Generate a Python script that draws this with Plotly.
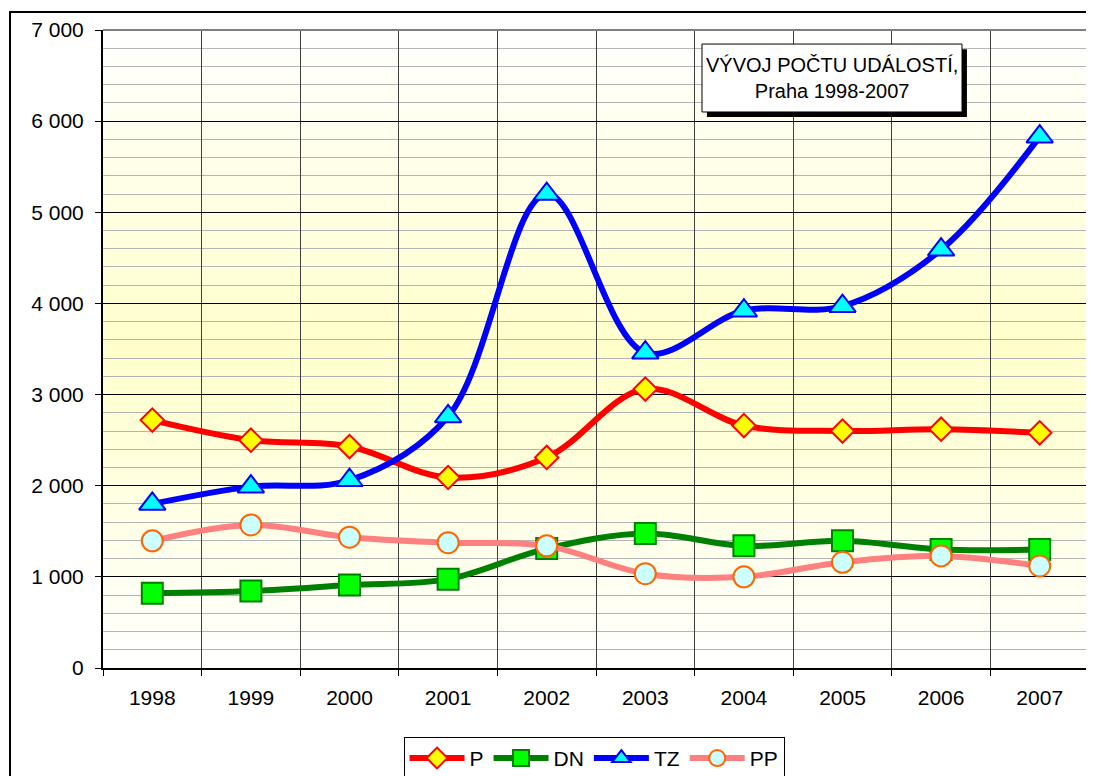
import plotly.graph_objects as go

years = ['1998', '1999', '2000', '2001', '2002', '2003', '2004', '2005', '2006', '2007']
P = [2720, 2500, 2430, 2090, 2310, 3060, 2660, 2600, 2620, 2580]
DN = [820, 845, 910, 975, 1310, 1475, 1340, 1395, 1300, 1300]
TZ = [1800, 1990, 2060, 2760, 5200, 3460, 3920, 3970, 4590, 5830]
PP = [1395, 1570, 1435, 1375, 1340, 1035, 1000, 1160, 1230, 1120]

FONT = "Liberation Sans"

fig = go.Figure()

series = [
    ("P", P, "#FF0000", "diamond", "#FFFF00", "#FF0000", 18),
    ("DN", DN, "#008000", "square", "#00FF00", "#008000", 21),
    ("TZ", TZ, "#0000FF", "triangle-up", "#00FFFF", "#0000FF", 23),
    ("PP", PP, "#FF8080", "circle", "#CCFFFF", "#FF6600", 21),
]
for name, vals, lc, sym, mf, mb, ms in series:
    fig.add_trace(go.Scatter(
        x=years, y=vals, name=name, mode="lines+markers",
        line=dict(color=lc, width=6, shape="spline", smoothing=1),
        marker=dict(symbol=sym, color=mf, size=ms, line=dict(color=mb, width=2)),
    ))

shapes = []
# vertical gradient background (white - yellow - white)
N = 64
for i in range(N):
    t = (i + 0.5) / N
    k = 1 - abs(2 * t - 1)
    b = int(round(255 - 52 * k))
    shapes.append(dict(type="rect", xref="paper", yref="paper",
                       x0=0, x1=1, y0=i / N, y1=(i + 1) / N + 0.002,
                       fillcolor=f"rgb(255,255,{b})", line=dict(width=0),
                       layer="below"))
# top and right plot border (gray)
shapes.append(dict(type="line", xref="paper", yref="paper", x0=0, x1=1, y0=1, y1=1,
                   line=dict(color="#808080", width=2), layer="above"))
shapes.append(dict(type="line", xref="paper", yref="paper", x0=1, x1=1, y0=0, y1=1,
                   line=dict(color="#808080", width=2), layer="above"))
# outer chart border
shapes.append(dict(type="rect", xref="paper", yref="paper",
                   x0=-0.0943, x1=1.05, y0=-0.3, y1=1.0282,
                   line=dict(color="black", width=2), fillcolor="rgba(0,0,0,0)", layer="above"))
# title box shadow and box
bx0, bx1, by0, by1 = 0.6075, 0.8712, 0.8715, 0.978
shapes.append(dict(type="rect", xref="paper", yref="paper",
                   x0=bx0 + 0.005, x1=bx1 + 0.005, y0=by0 - 0.008, y1=by1 - 0.008,
                   fillcolor="black", line=dict(width=0), layer="above"))
shapes.append(dict(type="rect", xref="paper", yref="paper",
                   x0=bx0, x1=bx1, y0=by0, y1=by1,
                   fillcolor="white", line=dict(color="black", width=1), layer="above"))

fig.update_layout(
    width=1086, height=768,
    margin=dict(l=95, r=5, t=22, b=108, autoexpand=False),
    paper_bgcolor="white", plot_bgcolor="white",
    separators=". ",
    font=dict(family=FONT, size=21, color="black"),
    shapes=shapes,
    annotations=[dict(
        text="VÝVOJ POČTU UDÁLOSTÍ,<br>Praha 1998-2007",
        xref="paper", yref="paper", x=(bx0 + bx1) / 2, y=(by0 + by1) / 2,
        showarrow=False, font=dict(family=FONT, size=20, color="black"),
        align="center", xanchor="center", yanchor="middle")],
    showlegend=True,
    legend=dict(orientation="h", x=0.498, xanchor="center", y=-0.108, yanchor="top",
                bordercolor="black", borderwidth=1, bgcolor="white",
                font=dict(family=FONT, size=21), itemwidth=55,
                traceorder="normal"),
    xaxis=dict(type="category", range=[-0.5, 9.5], tickson="boundaries",
               ticks="outside", ticklen=6, tickcolor="black",
               showgrid=True, gridcolor="#404040", gridwidth=1,
               showline=True, linecolor="black", linewidth=2,
               ticklabelstandoff=10,
               tickfont=dict(family=FONT, size=21), zeroline=False),
    yaxis=dict(range=[0, 7000], dtick=1000, tickformat=",d",
               ticks="outside", ticklen=6, tickcolor="black",
               showgrid=True, gridcolor="black", gridwidth=1,
               showline=True, linecolor="black", linewidth=2,
               ticklabelstandoff=7,
               minor=dict(dtick=200, showgrid=True, gridcolor="#B4B4B4", gridwidth=1),
               tickfont=dict(family=FONT, size=21), zeroline=False),
)

fig.write_html("out.html")
